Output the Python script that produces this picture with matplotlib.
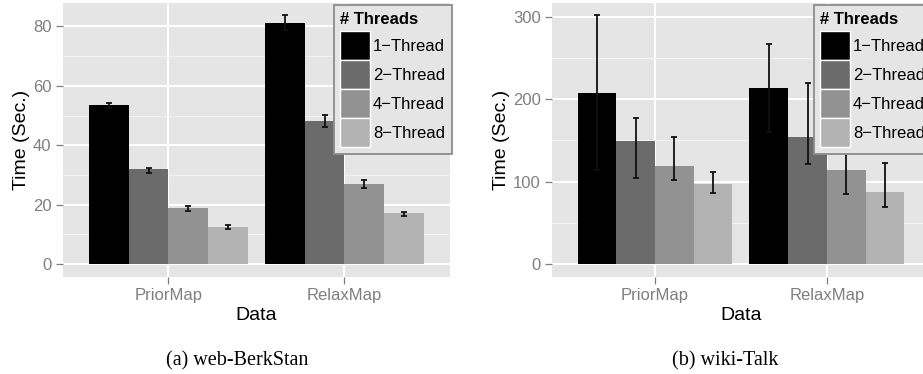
import matplotlib
matplotlib.use("Agg")
import matplotlib.pyplot as plt
from matplotlib.patches import Patch
from matplotlib.ticker import MultipleLocator
import numpy as np

plt.rcParams['font.family'] = ['Liberation Sans', 'DejaVu Sans']

# ---- data -------------------------------------------------------------
datasets = ["PriorMap", "RelaxMap"]
thread_labels = ["1\u2212Thread", "2\u2212Thread", "4\u2212Thread", "8\u2212Thread"]
thread_colors = ["#000000", "#6B6B6B", "#929292", "#B3B3B3"]

# web-BerkStan: mean time per thread count (rows) for each dataset (cols)
berk_mean = [[53.4, 81.2], [31.9, 48.1], [18.8, 26.9], [12.4, 17.1]]
berk_low = [[52.5, 78.7], [30.8, 46.3], [17.8, 25.5], [11.7, 16.1]]
berk_high = [[54.3, 83.7], [32.5, 50.2], [19.4, 28.2], [13.0, 17.6]]

# wiki-Talk
wiki_mean = [[208.1, 213.7], [148.8, 153.6], [118.5, 113.7], [96.8, 87.9]]
wiki_low = [[114.6, 160.4], [104.8, 121.0], [101.6, 85.0], [85.9, 69.3]]
wiki_high = [[301.6, 267.0], [177.4, 219.3], [154.0, 142.4], [111.3, 122.2]]

berk_major, berk_minor = 20, 10
wiki_major, wiki_minor = 100, 50

captions = ["(a) web-BerkStan", "(b) wiki-Talk"]

# ---- figure -----------------------------------------------------------
W, H = 923, 374
fig = plt.figure(figsize=(W / 100, H / 100), dpi=100)

panel_bottom = (H - 276.5) / H
panel_height = 273.5 / H
ax_l = fig.add_axes([62.7 / W, panel_bottom, 387.3 / W, panel_height])
ax_r = fig.add_axes([551.8 / W, panel_bottom, 378.2 / W, panel_height])

BG = "#E5E5E5"
GREY = "#7F7F7F"


def draw_panel(ax, mean, low, high, major, minor, legend_xy):
    mean = np.asarray(mean)
    low = np.asarray(low)
    high = np.asarray(high)
    n_groups = mean.shape[1]
    n_series = mean.shape[0]
    x = np.arange(1, n_groups + 1)
    dodge = 0.9
    bw = dodge / n_series
    offsets = (np.arange(n_series) - (n_series - 1) / 2) * bw

    ax.set_facecolor(BG)
    for s in ax.spines.values():
        s.set_visible(False)

    for i in range(n_series):
        xs = x + offsets[i]
        ax.bar(xs, mean[i], width=bw, color=thread_colors[i],
               edgecolor="none", zorder=2)
        yerr = np.vstack([mean[i] - low[i], high[i] - mean[i]])
        ax.errorbar(xs, mean[i], yerr=yerr, fmt="none", ecolor="#111111",
                    elinewidth=1.3, capsize=2.3, capthick=1.3, zorder=3)

    # ggplot-style expansion of the continuous and discrete scales
    top = max(high.max(), mean.max())
    pad = 0.05 * top
    ax.set_ylim(-pad, top + pad)
    ax.set_xlim(0.4, n_groups + 0.6)

    ax.set_xticks(x)
    ax.set_xticklabels(datasets)
    ax.yaxis.set_major_locator(MultipleLocator(major))
    ax.yaxis.set_minor_locator(MultipleLocator(minor))
    ax.tick_params(axis="y", which="minor", length=0)
    ax.tick_params(axis="both", which="major", length=5, width=0.9,
                   color=GREY, labelcolor=GREY, labelsize=12, pad=3)

    ax.grid(which="major", color="white", linewidth=1.4, zorder=0)
    ax.grid(which="minor", axis="y", color="#F2F2F2", linewidth=0.8, zorder=0)
    ax.set_axisbelow(True)

    ax.set_xlabel("Data", fontsize=14, labelpad=3)
    ax.set_ylabel("Time (Sec.)", fontsize=14, labelpad=2)

    handles = [Patch(facecolor=c, edgecolor="white", linewidth=1.0)
               for c in thread_colors]
    leg = ax.legend(handles, thread_labels, title="# Threads",
                    loc="upper left", bbox_to_anchor=legend_xy,
                    bbox_transform=fig.transFigure, borderaxespad=0,
                    frameon=True, fancybox=False, framealpha=1,
                    facecolor=BG, edgecolor="#8C8C8C",
                    prop=dict(family="Liberation Sans", size=12),
                    title_fontproperties=dict(family="Liberation Sans",
                                              size=12, weight="bold"),
                    alignment="left", handlelength=1.76, handleheight=2.3,
                    handletextpad=0.2, labelspacing=0, borderpad=0.4)
    leg.get_frame().set_linewidth(1.3)
    # small gap between the title and the key column
    leg._legend_box.sep = 3.0
    leg.set_zorder(10)


draw_panel(ax_l, berk_mean, berk_low, berk_high, berk_major, berk_minor,
           (333.5 / W, 1 - 5.5 / H))
draw_panel(ax_r, wiki_mean, wiki_low, wiki_high, wiki_major, wiki_minor,
           (813.5 / W, 1 - 5.5 / H))

fig.text(237 / W, 1 - 361 / H, captions[0], ha="center", va="center",
         family="Liberation Serif", fontsize=14.5)
fig.text(725 / W, 1 - 361 / H, captions[1], ha="center", va="center",
         family="Liberation Serif", fontsize=14.5)

fig.savefig("out.png", dpi=100)
